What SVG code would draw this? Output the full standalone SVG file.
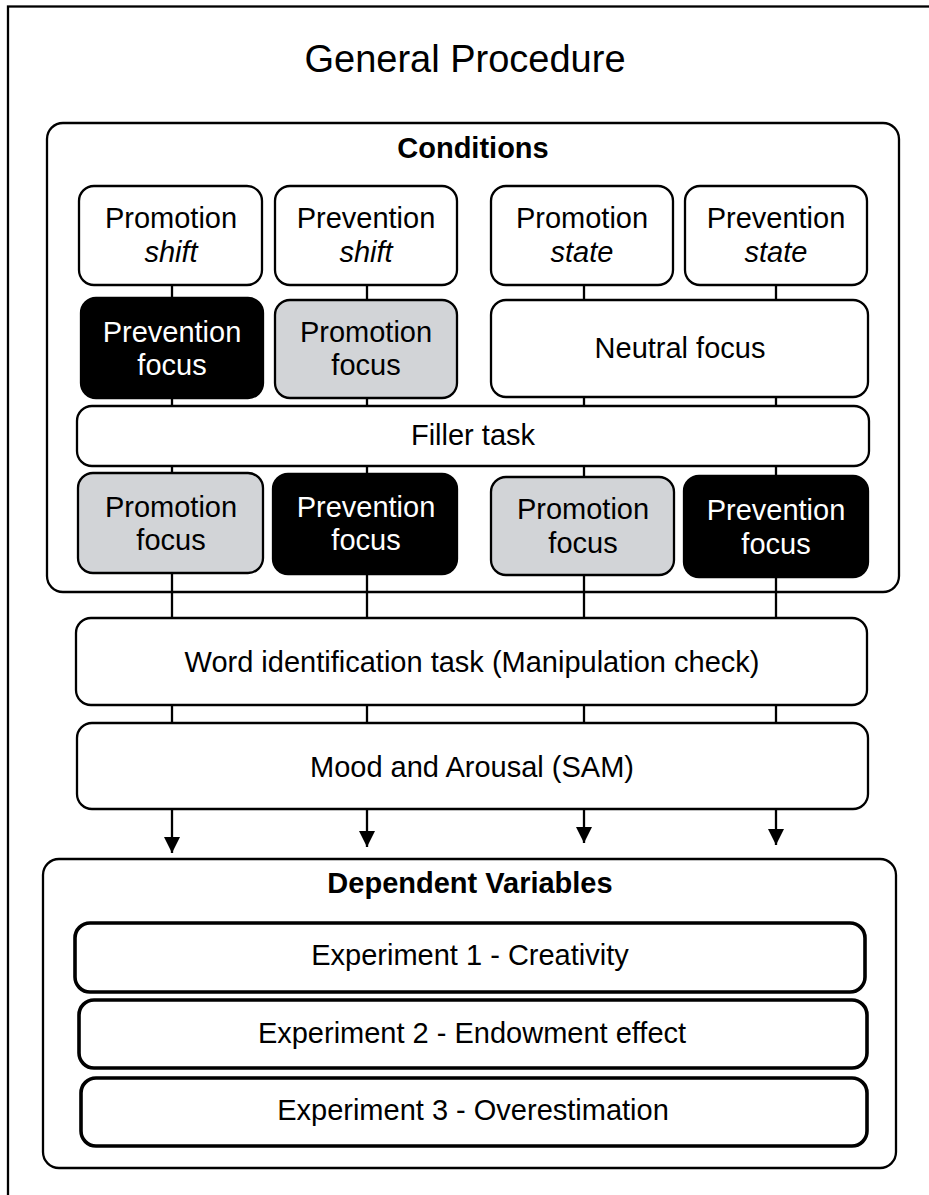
<svg xmlns="http://www.w3.org/2000/svg" width="929" height="1195" viewBox="0 0 929 1195">
<defs>
<style>
.t{font-family:"Liberation Sans",Arial,sans-serif;font-size:29px;fill:#000;text-anchor:middle}
.b{font-weight:bold}
.i{font-style:italic}
.w{fill:#fff}
.box{fill:#fff;stroke:#000;stroke-width:2.3}
.gray{fill:#d2d4d7;stroke:#000;stroke-width:2.3}
.blk{fill:#000;stroke:#000;stroke-width:2.3}
.exp{fill:#fff;stroke:#000;stroke-width:3.6}
.ln{stroke:#000;stroke-width:2.3;fill:none}
</style>
<marker id="ah" viewBox="0 0 10 10" refX="10" refY="5" markerWidth="16" markerHeight="16" markerUnits="userSpaceOnUse" orient="auto">
<path d="M0,0 L10,5 L0,10 Z" fill="#000"/>
</marker>
</defs>
<rect width="929" height="1195" fill="#fff"/>
<rect x="8" y="6.5" width="1000" height="1250" fill="none" stroke="#000" stroke-width="2.3"/>
<text class="t" x="465" y="72" style="font-size:38px">General Procedure</text>

<g id="conditions">
<rect class="box" x="47" y="123" width="852" height="469" rx="16"/>
<text class="t b" x="473" y="158">Conditions</text>
</g>

<g id="connectors">
<line class="ln" x1="172" y1="285" x2="172" y2="618"/>
<line class="ln" x1="367" y1="285" x2="367" y2="618"/>
<line class="ln" x1="584" y1="285" x2="584" y2="618"/>
<line class="ln" x1="776" y1="285" x2="776" y2="618"/>
<line class="ln" x1="172" y1="705" x2="172" y2="723"/>
<line class="ln" x1="367" y1="705" x2="367" y2="723"/>
<line class="ln" x1="584" y1="705" x2="584" y2="723"/>
<line class="ln" x1="776" y1="705" x2="776" y2="723"/>
<line class="ln" x1="172" y1="809" x2="172" y2="853" marker-end="url(#ah)"/>
<line class="ln" x1="367" y1="809" x2="367" y2="847" marker-end="url(#ah)"/>
<line class="ln" x1="584" y1="809" x2="584" y2="843" marker-end="url(#ah)"/>
<line class="ln" x1="776" y1="809" x2="776" y2="845" marker-end="url(#ah)"/>
</g>

<g id="promotion-shift">
<rect class="box" x="79" y="186" width="183" height="99" rx="15"/>
<text class="t" x="171" y="228">Promotion</text>
<text class="t i" x="171" y="262">shift</text>
</g>
<g id="prevention-shift">
<rect class="box" x="275" y="186" width="182" height="99" rx="15"/>
<text class="t" x="366" y="228">Prevention</text>
<text class="t i" x="366" y="262">shift</text>
</g>
<g id="promotion-state">
<rect class="box" x="491" y="186" width="182" height="99" rx="15"/>
<text class="t" x="582" y="228">Promotion</text>
<text class="t i" x="582" y="262">state</text>
</g>
<g id="prevention-state">
<rect class="box" x="685" y="186" width="182" height="99" rx="15"/>
<text class="t" x="776" y="228">Prevention</text>
<text class="t i" x="776" y="262">state</text>
</g>

<g id="prevention-focus-1">
<rect class="blk" x="81" y="298" width="182" height="100" rx="15"/>
<text class="t w" x="172" y="342">Prevention</text>
<text class="t w" x="172" y="375">focus</text>
</g>
<g id="promotion-focus-1">
<rect class="gray" x="275" y="300" width="182" height="98" rx="15"/>
<text class="t" x="366" y="342">Promotion</text>
<text class="t" x="366" y="375">focus</text>
</g>
<g id="neutral-focus">
<rect class="box" x="491" y="300" width="377" height="97" rx="15"/>
<text class="t" x="680" y="358">Neutral focus</text>
</g>

<g id="filler-task">
<rect class="box" x="77" y="406" width="792" height="60" rx="15"/>
<text class="t" x="473" y="445">Filler task</text>
</g>

<g id="promotion-focus-2">
<rect class="gray" x="78" y="473" width="185" height="100" rx="15"/>
<text class="t" x="171" y="517">Promotion</text>
<text class="t" x="171" y="550">focus</text>
</g>
<g id="prevention-focus-2">
<rect class="blk" x="273" y="474" width="184" height="100" rx="15"/>
<text class="t w" x="366" y="517">Prevention</text>
<text class="t w" x="366" y="550">focus</text>
</g>
<g id="promotion-focus-3">
<rect class="gray" x="491" y="477" width="183" height="98" rx="15"/>
<text class="t" x="583" y="519">Promotion</text>
<text class="t" x="583" y="553">focus</text>
</g>
<g id="prevention-focus-3">
<rect class="blk" x="684" y="476" width="184" height="101" rx="15"/>
<text class="t w" x="776" y="520">Prevention</text>
<text class="t w" x="776" y="554">focus</text>
</g>

<g id="word-identification">
<rect class="box" x="76" y="618" width="791" height="87" rx="15"/>
<text class="t" x="472" y="672">Word identification task (Manipulation check)</text>
</g>
<g id="mood-arousal">
<rect class="box" x="77" y="723" width="791" height="86" rx="15"/>
<text class="t" x="472" y="777">Mood and Arousal (SAM)</text>
</g>

<g id="dependent-variables">
<rect class="box" x="43" y="859" width="853" height="309" rx="16"/>
<text class="t b" x="470" y="893">Dependent Variables</text>
</g>
<g id="experiment-1">
<rect class="exp" x="75" y="923" width="790" height="69" rx="15"/>
<text class="t" x="470" y="965">Experiment 1 - Creativity</text>
</g>
<g id="experiment-2">
<rect class="exp" x="79" y="1000" width="788" height="68" rx="15"/>
<text class="t" x="472" y="1043">Experiment 2 - Endowment effect</text>
</g>
<g id="experiment-3">
<rect class="exp" x="81" y="1078" width="786" height="68" rx="15"/>
<text class="t" x="473" y="1120">Experiment 3 - Overestimation</text>
</g>
</svg>
